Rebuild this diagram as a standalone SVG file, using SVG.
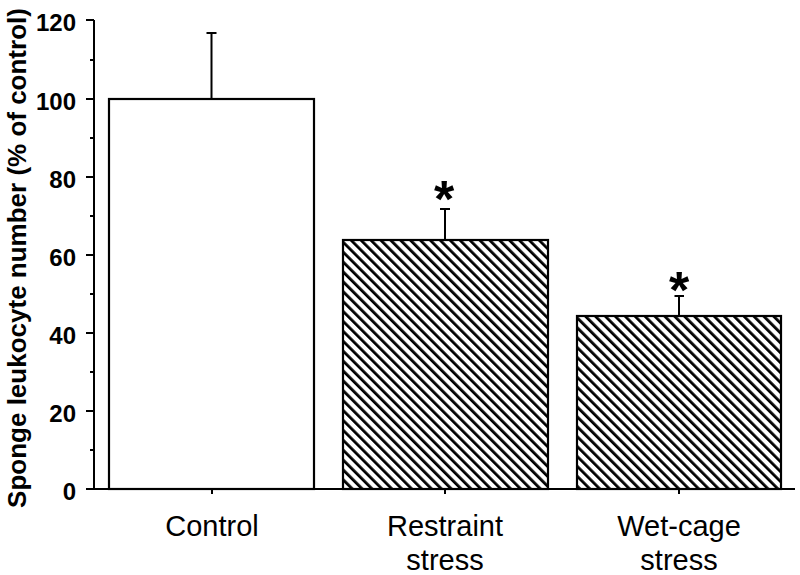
<svg xmlns="http://www.w3.org/2000/svg" width="800" height="575" viewBox="0 0 800 575">
<style>
.ax{stroke:#000;stroke-width:2;fill:none}
.bar{stroke:#000;stroke-width:2.2}
.err{stroke:#000;stroke-width:2;fill:none}
.tl{font-family:"Liberation Sans",Arial,sans-serif;font-weight:bold;font-size:24px;text-anchor:end;fill:#000}
.cl{font-family:"Liberation Sans",Arial,sans-serif;font-size:29px;text-anchor:middle;fill:#000}
.star{font-family:"Liberation Sans",Arial,sans-serif;font-weight:bold;font-size:52px;text-anchor:middle;fill:#000}
</style>
<defs>
<pattern id="hatch" patternUnits="userSpaceOnUse" width="7" height="10" patternTransform="rotate(-45)">
<rect width="7" height="10" fill="#fff"/>
<line x1="1.4" y1="0" x2="1.4" y2="10" stroke="#000" stroke-width="2.8"/>
</pattern>
</defs>
<rect width="800" height="575" fill="#fff"/>
<g id="axes">
<path class="ax" d="M94,20V489H795"/>
<path class="ax" d="M86,20H94M86,99H94M86,177H94M86,255H94M86,333H94M86,411H94M86,489H94"/>
<path class="ax" d="M90,60H94M90,138H94M90,216H94M90,294H94M90,372H94M90,450H94"/>
<path class="ax" d="M212,489V494M445,489V494M679,489V494"/>
<text class="tl" x="76" y="31">120</text>
<text class="tl" x="76" y="109.5">100</text>
<text class="tl" x="76" y="187.5">80</text>
<text class="tl" x="76" y="265.5">60</text>
<text class="tl" x="76" y="343.5">40</text>
<text class="tl" x="76" y="421.5">20</text>
<text class="tl" x="76" y="499.5">0</text>
<text transform="translate(25.5,258) rotate(-90)" font-family="Liberation Sans,Arial,sans-serif" font-weight="bold" font-size="26" text-anchor="middle">Sponge leukocyte number (% of control)</text>
</g>
<g id="control">
<rect class="bar" x="109" y="99" width="205" height="390" fill="#fff"/>
<path class="err" d="M211.5,99V33M206.5,33H216.5"/>
<text class="cl" x="212" y="536">Control</text>
</g>
<g id="restraint">
<rect class="bar" x="343" y="240" width="205" height="249" fill="url(#hatch)"/>
<path class="err" d="M445,240V209M440,209H450"/>
<text class="star" x="444" y="217">*</text>
<text class="cl" x="445" y="536">Restraint</text>
<text class="cl" x="445" y="570">stress</text>
</g>
<g id="wetcage">
<rect class="bar" x="577" y="316" width="204" height="173" fill="url(#hatch)"/>
<path class="err" d="M679,316V296M674.5,296H684"/>
<text class="star" x="679" y="308">*</text>
<text class="cl" x="679" y="536">Wet-cage</text>
<text class="cl" x="679" y="570">stress</text>
</g>
<g id="connectors"/>
</svg>
